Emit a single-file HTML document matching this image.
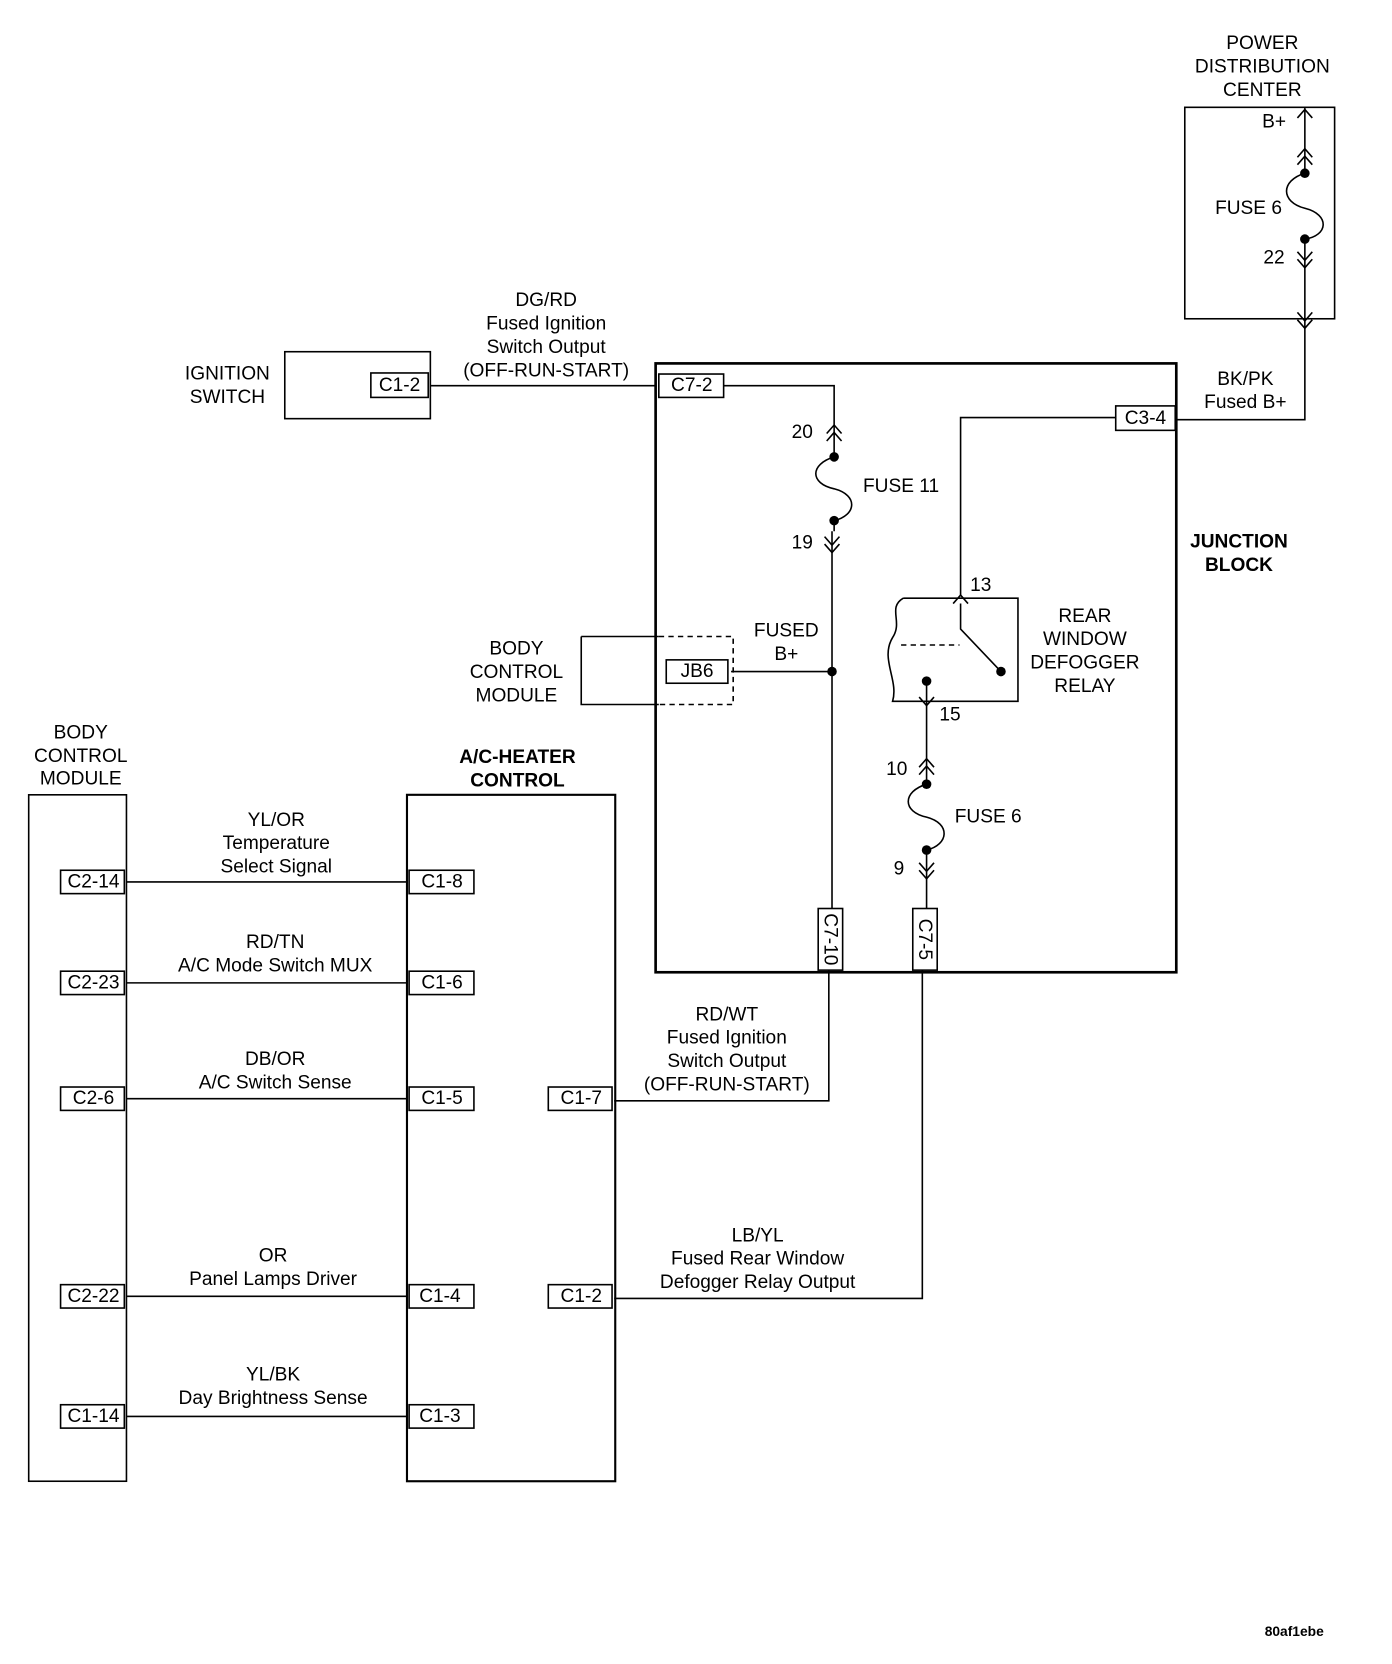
<!DOCTYPE html>
<html><head><meta charset="utf-8"><style>
html,body{margin:0;padding:0;background:#fff;}
svg{display:block;}
text{font-family:"Liberation Sans",Arial,sans-serif;font-size:18px;fill:#000;dominant-baseline:central;text-anchor:middle;}
.b{font-weight:bold;}
.s{font-size:13px;}
</style></head><body>
<svg width="1392" height="1664" viewBox="0 0 1310 1566" xmlns="http://www.w3.org/2000/svg">
<g fill="none" stroke="#000" stroke-width="1.5">
<!-- PDC -->
<rect x="1115" y="101" width="141" height="199"/>
<path d="M1228 101 V163 M1228 225 V395 H1107"/>
<path d="M1221 111 L1228 103 L1235 111"/>
<path d="M1221 148 L1228 140 L1235 148 M1221 155 L1228 147 L1235 155"/>
<path d="M1228 163 C1205 170 1205 190 1228 196 C1252 202 1250 222 1228 225"/>
<path d="M1221 237 L1228 245 L1235 237 M1221 244 L1228 252 L1235 244"/>
<path d="M1221 294 L1228 302 L1235 294 M1221 301 L1228 309 L1235 301"/>
<!-- ignition -->
<rect x="268" y="331" width="137" height="63"/>
<rect x="349" y="351" width="54" height="23"/>
<path d="M405 363 H618"/>
<!-- junction block -->
<rect x="617" y="342" width="490" height="573" stroke-width="2.5"/>
<rect x="620" y="352" width="61" height="22"/>
<path d="M681 363 H785 V430 M785 490 V500 M783 500 V855"/>
<path d="M778 408 L785 400 L792 408 M778 415 L785 407 L792 415"/>
<path d="M785 430 C762 437 762 455 785 460 C808 466 806 485 785 490"/>
<path d="M776 505 L783 513 L790 505 M776 512 L783 520 L790 512"/>
<rect x="770" y="855" width="23" height="58"/>
<rect x="859" y="855" width="23" height="58"/>
<path d="M688 632 H783"/>
<!-- BCM dashed -->
<path d="M547 599 V663 H620 M547 599 H620"/>
<path d="M620 599 H690 V663 H620" stroke-dasharray="5,4"/>
<rect x="627" y="621" width="58" height="22"/>
<!-- C3-4 -->
<rect x="1050" y="382" width="56" height="23"/>
<path d="M1050 393 H904 V560"/>
<path d="M897 568 L904 560 L911 568"/>
<!-- relay -->
<path d="M850 563 H958 V660 H840 C846 640 828 620 840 600 C850 585 835 572 850 563"/>
<path d="M848 607 H903" stroke-dasharray="5,4"/>
<path d="M904 568 V592 L942 632"/>
<path d="M872 641 V738 M872 800 V855"/>
<path d="M865 656 L872 664 L879 656"/>
<path d="M865 722 L872 714 L879 722 M865 729 L872 721 L879 729"/>
<path d="M872 738 C849 745 849 764 872 769 C895 775 893 795 872 800"/>
<path d="M865 812 L872 820 L879 812 M865 819 L872 827 L879 819"/>
<path d="M780 913 V1036 H578 M868 913 V1222 H578"/>
<!-- left modules -->
<rect x="27" y="748" width="92" height="646"/>
<rect x="383" y="748" width="196" height="646" stroke-width="2"/>
<path d="M119 830 H383 M119 925 H383 M119 1034 H383 M119 1220 H383 M119 1333 H383"/>
<rect x="57" y="819" width="60" height="22"/>
<rect x="57" y="914" width="60" height="22"/>
<rect x="57" y="1023" width="60" height="22"/>
<rect x="57" y="1209" width="60" height="22"/>
<rect x="57" y="1322" width="60" height="22"/>
<rect x="385" y="819" width="61" height="22"/>
<rect x="385" y="914" width="61" height="22"/>
<rect x="385" y="1023" width="61" height="22"/>
<rect x="385" y="1209" width="61" height="22"/>
<rect x="385" y="1322" width="61" height="22"/>
<rect x="516" y="1023" width="60" height="22"/>
<rect x="516" y="1209" width="60" height="22"/>
</g>
<g fill="#000">
<circle cx="1228" cy="163" r="4.5"/><circle cx="1228" cy="225" r="4.5"/>
<circle cx="785" cy="430" r="4.5"/><circle cx="785" cy="490" r="4.5"/>
<circle cx="783" cy="632" r="4.5"/>
<circle cx="942" cy="632" r="4.5"/><circle cx="872" cy="641" r="4.5"/>
<circle cx="872" cy="738" r="4.5"/><circle cx="872" cy="800" r="4.5"/>
</g>
<text x="1188" y="41">POWER</text><text x="1188" y="63">DISTRIBUTION</text><text x="1188" y="85">CENTER</text>
<text x="1199" y="115">B+</text><text x="1175" y="196">FUSE 6</text><text x="1199" y="243">22</text>
<text x="1172" y="357">BK/PK</text><text x="1172" y="379">Fused B+</text>
<text x="1078" y="394">C3-4</text>
<text x="214" y="352">IGNITION</text><text x="214" y="374">SWITCH</text>
<text x="376" y="363">C1-2</text>
<text x="514" y="283">DG/RD</text><text x="514" y="305">Fused Ignition</text><text x="514" y="327">Switch Output</text><text x="514" y="349">(OFF-RUN-START)</text>
<text x="651" y="363">C7-2</text>
<text x="755" y="407">20</text><text x="848" y="458">FUSE 11</text><text x="755" y="511">19</text>
<text x="740" y="594">FUSED</text><text x="740" y="616">B+</text>
<text x="656" y="632">JB6</text>
<text x="486" y="611">BODY</text><text x="486" y="633">CONTROL</text><text x="486" y="655">MODULE</text>
<text class="b" x="1166" y="510">JUNCTION</text><text class="b" x="1166" y="532">BLOCK</text>
<text x="923" y="551">13</text><text x="894" y="673">15</text>
<text x="1021" y="580">REAR</text><text x="1021" y="602">WINDOW</text><text x="1021" y="624">DEFOGGER</text><text x="1021" y="646">RELAY</text>
<text x="844" y="724">10</text><text x="930" y="769">FUSE 6</text><text x="846" y="818">9</text>
<text transform="translate(781,884) rotate(90)">C7-10</text>
<text transform="translate(870,884) rotate(90)">C7-5</text>
<text x="76" y="690">BODY</text><text x="76" y="712">CONTROL</text><text x="76" y="733">MODULE</text>
<text class="b" x="487" y="713">A/C-HEATER</text><text class="b" x="487" y="735">CONTROL</text>
<text x="260" y="772">YL/OR</text><text x="260" y="794">Temperature</text><text x="260" y="816">Select Signal</text>
<text x="259" y="887">RD/TN</text><text x="259" y="909">A/C Mode Switch MUX</text>
<text x="259" y="997">DB/OR</text><text x="259" y="1019">A/C Switch Sense</text>
<text x="257" y="1182">OR</text><text x="257" y="1204">Panel Lamps Driver</text>
<text x="257" y="1294">YL/BK</text><text x="257" y="1316">Day Brightness Sense</text>
<text x="88" y="830">C2-14</text><text x="88" y="925">C2-23</text><text x="88" y="1034">C2-6</text><text x="88" y="1220">C2-22</text><text x="88" y="1333">C1-14</text>
<text x="416" y="830">C1-8</text><text x="416" y="925">C1-6</text><text x="416" y="1034">C1-5</text><text x="414" y="1220">C1-4</text><text x="414" y="1333">C1-3</text>
<text x="547" y="1034">C1-7</text><text x="547" y="1220">C1-2</text>
<text x="684" y="955">RD/WT</text><text x="684" y="977">Fused Ignition</text><text x="684" y="999">Switch Output</text><text x="684" y="1021">(OFF-RUN-START)</text>
<text x="713" y="1163">LB/YL</text><text x="713" y="1185">Fused Rear Window</text><text x="713" y="1207">Defogger Relay Output</text>
<text class="s b" x="1218" y="1535">80af1ebe</text>
</svg>
</body></html>
